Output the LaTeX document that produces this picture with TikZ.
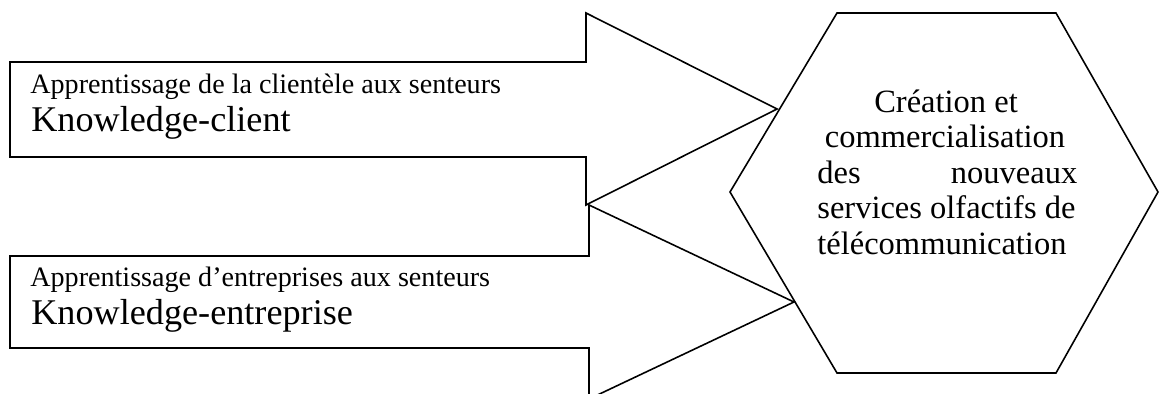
\documentclass[tikz,border=0pt]{standalone}
\usepackage{fontspec}
\setmainfont{Liberation Serif}

\begin{document}
\begin{tikzpicture}[
  x=0.02cm, y=-0.02cm,
  outline/.style={draw, line width=0.9pt, line join=miter},
  subtxt/.style={anchor=base west, inner sep=0pt, font=\fontsize{16}{19}\selectfont},
  keytxt/.style={anchor=base west, inner sep=0pt, font=\fontsize{20.6}{24}\selectfont},
  hextxt/.style={inner sep=0pt, font=\fontsize{18.5}{21}\selectfont}
]
\useasboundingbox (0,0) rectangle (1160,394);

% Input arrows
\draw[outline] (10,62) -- (586,62) -- (586,13) -- (777,109) -- (586,205)
  -- (586,157) -- (10,157) -- cycle;
\draw[outline] (10,256) -- (589,256) -- (589,205) -- (794,302) -- (589,399)
  -- (589,348) -- (10,348) -- cycle;

% Target hexagon
\draw[outline] (730,192) -- (837,13) -- (1056,13) -- (1158,192)
  -- (1056,373) -- (837,373) -- cycle;

% Arrow texts
\node[subtxt] (clientsub) at (30,94) {Apprentissage de la clientèle aux senteurs};
\node[keytxt] (clientkw) at (31,132) {Knowledge-client};
\node[subtxt] (entsub) at (30,287) {Apprentissage d’entreprises aux senteurs};
\node[keytxt] (entkw) at (31,325) {Knowledge-entreprise};

% Hexagon text, line by line
\node[hextxt, anchor=base] (goalA) at (946,112.5) {Création et};
\node[hextxt, anchor=base] (goalB) at (945,148) {commercialisation};
\node[hextxt, anchor=base west] (goalC) at (817,183.5) {\makebox[5.2cm][s]{des nouveaux}};
\node[hextxt, anchor=base west] (goalD) at (817,219) {services olfactifs de};
\node[hextxt, anchor=base west] (goalE) at (817,254.5) {télécommunication};
\end{tikzpicture}
\end{document}
